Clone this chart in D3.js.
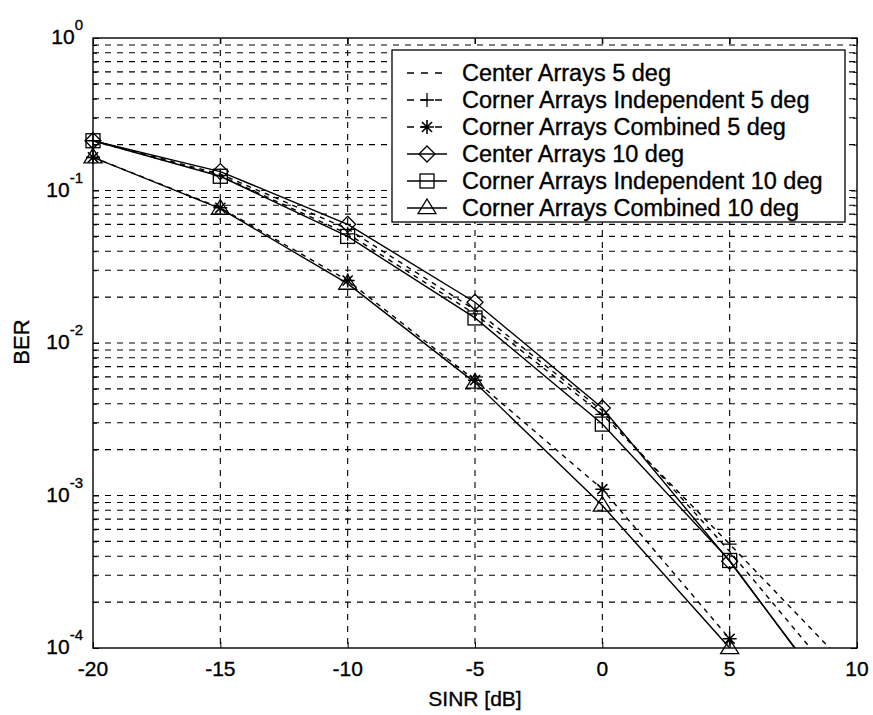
<!DOCTYPE html>
<html>
<head>
<meta charset="utf-8">
<script src="https://cdn.jsdelivr.net/npm/d3@7"></script>
<style>
  body { margin: 0; background: #fff; }
  svg { font-family: "Liberation Sans", Arial, sans-serif; }
  svg text { stroke: #000; stroke-width: 0.35px; }
</style>
</head>
<body>
<div id="chart"></div>
<script>
// SINR values (dB) shared by every curve
const sinr = [-20, -15, -10, -5, 0, 5, 10];

// BER (last point lies below the axis and is clipped)
const centerArrays5 = [0.212, 0.128, 0.056, 0.0165, 0.0036, 0.00043, 4.3e-5];
const cornerIndep5 = [0.212, 0.125, 0.052, 0.0155, 0.0034, 0.00048, 6.5e-5];
const cornerComb5 = [0.165, 0.077, 0.0257, 0.0057, 0.0011, 0.000115, 2.5e-6];
const centerArrays10 = [0.212, 0.133, 0.060, 0.0185, 0.00375, 0.00037, 2.9e-5];
const cornerIndep10 = [0.212, 0.124, 0.050, 0.0146, 0.00294, 0.000375, 2.8e-5];
const cornerComb10 = [0.165, 0.076, 0.0245, 0.0055, 0.00086, 0.0001, 1e-6];

const seriesNames = [
  'Center Arrays 5 deg',
  'Corner Arrays Independent 5 deg',
  'Corner Arrays Combined 5 deg',
  'Center Arrays 10 deg',
  'Corner Arrays Independent 10 deg',
  'Corner Arrays Combined 10 deg'
];
const seriesValues = [centerArrays5, cornerIndep5, cornerComb5, centerArrays10, cornerIndep10, cornerComb10];
const seriesDashed = [true, true, true, false, false, false];
const seriesMarker = ['none', 'plus', 'star', 'diamond', 'square', 'triangle'];

const xTicks = [-20, -15, -10, -5, 0, 5, 10];
const yDecades = [0, -1, -2, -3, -4];

const W = 873, H = 715;
const margin = { top: 38, right: 16, bottom: 67, left: 93 };
const width = W - margin.left - margin.right;
const height = H - margin.top - margin.bottom;

const svg = d3.select('#chart').append('svg')
  .attr('width', W)
  .attr('height', H);

const g = svg.append('g')
  .attr('transform', `translate(${margin.left},${margin.top})`);

const x = d3.scaleLinear().domain([-20, 10]).range([0, width]);
const y = d3.scaleLog().domain([1e-4, 1]).range([height, 0]);

g.append('defs').append('clipPath').attr('id', 'plot-clip')
  .append('rect').attr('width', width).attr('height', height);

// Grid: dashed at every major x tick and every log minor y tick
const minorY = [];
for (let e = -4; e < 0; e++) {
  for (let m = 1; m < 10; m++) minorY.push(m * Math.pow(10, e));
}

g.append('g').selectAll('line')
  .data(minorY.filter(v => v > 1e-4))
  .enter().append('line')
  .attr('x1', 0).attr('x2', width)
  .attr('y1', d => y(d)).attr('y2', d => y(d))
  .attr('stroke', '#000').attr('stroke-width', 1.1)
  .attr('stroke-dasharray', '6,6');

g.append('g').selectAll('line')
  .data(xTicks.slice(1, -1))
  .enter().append('line')
  .attr('x1', d => x(d)).attr('x2', d => x(d))
  .attr('y1', 0).attr('y2', height)
  .attr('stroke', '#000').attr('stroke-width', 1.1)
  .attr('stroke-dasharray', '6,6');

// Axes (ticks inside, box around)
const tickLen = 6;
const axisLeft = g.append('g').call(d3.axisLeft(y).tickValues(minorY.concat([1])).tickSize(-tickLen).tickFormat(''));
const axisRight = g.append('g').attr('transform', `translate(${width},0)`)
  .call(d3.axisRight(y).tickValues(minorY.concat([1])).tickSize(-tickLen).tickFormat(''));
const axisBottom = g.append('g').attr('transform', `translate(0,${height})`)
  .call(d3.axisBottom(x).tickValues(xTicks).tickSize(-tickLen).tickFormat(''));
const axisTop = g.append('g')
  .call(d3.axisTop(x).tickValues(xTicks).tickSize(-tickLen).tickFormat(''));
[axisLeft, axisRight, axisBottom, axisTop].forEach(a => {
  a.selectAll('line').attr('stroke', '#000');
  a.select('.domain').remove();
});
// minor ticks shorter
[axisLeft, axisRight].forEach(a => {
  a.selectAll('.tick line').attr('x2', function (d) {
    const major = Math.abs(Math.log10(d) - Math.round(Math.log10(d))) < 1e-9;
    const len = major ? tickLen : 4;
    return a === axisLeft ? len : -len;
  });
});

g.append('rect')
  .attr('width', width).attr('height', height)
  .attr('fill', 'none').attr('stroke', '#000').attr('stroke-width', 1.4);

// Tick labels
g.append('g').selectAll('text')
  .data(xTicks)
  .enter().append('text')
  .attr('x', d => x(d))
  .attr('y', height + 28)
  .attr('text-anchor', 'middle')
  .attr('font-size', 21)
  .text(d => d);

const yLab = g.append('g').selectAll('text')
  .data(yDecades)
  .enter().append('text')
  .attr('x', -10)
  .attr('y', d => y(Math.pow(10, d)) + 6)
  .attr('text-anchor', 'end')
  .attr('font-size', 21);
yLab.append('tspan').text('10');
yLab.append('tspan').attr('dy', -14).attr('font-size', 15).text(d => d);

g.append('text')
  .attr('x', width / 2)
  .attr('y', height + 58)
  .attr('text-anchor', 'middle')
  .attr('font-size', 21)
  .text('SINR [dB]');

g.append('text')
  .attr('transform', 'rotate(-90)')
  .attr('x', -(342 - margin.top))
  .attr('y', -64)
  .attr('text-anchor', 'middle')
  .attr('font-size', 22)
  .text('BER');

// Marker drawing
function drawMarker(sel, type) {
  const st = { fill: 'none', stroke: '#000', 'stroke-width': 1.3 };
  let el;
  if (type === 'plus') {
    const s = 7;
    el = sel.append('path').attr('d', `M${-s},0H${s}M0,${-s}V${s}`);
  } else if (type === 'star') {
    const s = 7, a = s * 0.72;
    el = sel.append('path').attr('d', `M${-s},0H${s}M0,${-s}V${s}M${-a},${-a}L${a},${a}M${-a},${a}L${a},${-a}`);
    st['stroke-width'] = 1.6;
  } else if (type === 'diamond') {
    const s = 8;
    el = sel.append('path').attr('d', `M0,${-s}L${s},0L0,${s}L${-s},0Z`);
  } else if (type === 'square') {
    const h = 7;
    el = sel.append('rect').attr('x', -h).attr('y', -h).attr('width', 2 * h).attr('height', 2 * h);
  } else if (type === 'triangle') {
    const s = 9;
    el = sel.append('path').attr('d', `M0,${-s}L${s},${s * 0.62}L${-s},${s * 0.62}Z`);
  } else {
    return;
  }
  Object.entries(st).forEach(([k, v]) => el.attr(k, v));
}

const line = d3.line().x(d => x(d[0])).y(d => y(d[1]));

seriesValues.forEach((vals, i) => {
  const pts = sinr.map((s, j) => [s, vals[j]]);
  g.append('path')
    .datum(pts)
    .attr('clip-path', 'url(#plot-clip)')
    .attr('d', line)
    .attr('fill', 'none')
    .attr('stroke', '#000')
    .attr('stroke-width', 1.4)
    .attr('stroke-dasharray', seriesDashed[i] ? '5,5' : null);

  pts.filter(p => p[1] >= 1e-4 && p[0] < 10).forEach(p => {
    const m = g.append('g').attr('transform', `translate(${x(p[0])},${y(p[1])})`);
    drawMarker(m, seriesMarker[i]);
  });
});

// Legend
const lg = svg.append('g').attr('transform', 'translate(392,50)');
lg.append('rect')
  .attr('width', 453).attr('height', 172)
  .attr('fill', '#fff').attr('stroke', '#000').attr('stroke-width', 1.3);

seriesNames.forEach((name, i) => {
  const row = lg.append('g').attr('transform', `translate(0,${23 + i * 27})`);
  row.append('line')
    .attr('x1', 15).attr('x2', 55)
    .attr('stroke', '#000').attr('stroke-width', 1.3)
    .attr('stroke-dasharray', seriesDashed[i] ? '7,7' : null);
  const m = row.append('g').attr('transform', 'translate(35,0)');
  drawMarker(m, seriesMarker[i]);
  row.append('text')
    .attr('x', 70).attr('y', 8)
    .attr('font-size', 23.5)
    .text(name);
});
</script>
</body>
</html>
